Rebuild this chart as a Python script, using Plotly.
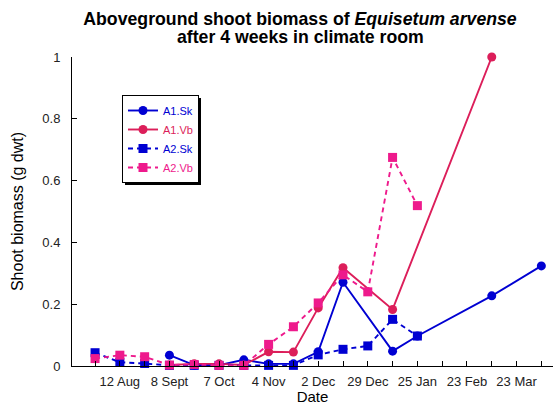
import plotly.graph_objects as go

# sampling index: one step = two weeks, labels on every other step
tick_text = ["", "12 Aug", "", "8 Sept", "", "7 Oct", "", "4 Nov", "", "2 Dec",
             "", "29 Dec", "", "25 Jan", "", "23 Feb", "", "23 Mar", ""]

a1_sk_x = [3, 4, 5, 6, 7, 8, 9, 10, 12, 13, 16, 18]
a1_sk_y = [0.035, 0.003, 0.003, 0.02, 0.007, 0.007, 0.046, 0.271, 0.048, 0.097, 0.227, 0.324]

a1_vb_x = [3, 4, 5, 6, 7, 8, 9, 10, 12, 16]
a1_vb_y = [0.003, 0.007, 0.007, 0.003, 0.046, 0.045, 0.188, 0.318, 0.183, 1.0]

a2_sk_x = [0, 1, 2, 3, 4, 5, 6, 7, 8, 9, 10, 11, 12, 13]
a2_sk_y = [0.043, 0.012, 0.008, 0.002, 0.002, 0.002, 0.002, 0.002, 0.002, 0.036, 0.054, 0.065, 0.151, 0.097]

a2_vb_x = [0, 1, 2, 3, 4, 5, 6, 7, 8, 9, 10, 11, 12, 13]
a2_vb_y = [0.024, 0.035, 0.03, 0.003, 0.005, 0.002, 0.002, 0.07, 0.127, 0.204, 0.295, 0.24, 0.675, 0.519]

BLUE = "#0000D2"
CRIMSON = "#DC1E5A"
PINK = "#EE1A8C"
FONT = "Liberation Sans"


def series(x, y, name, color, symbol, dash):
    return go.Scatter(
        x=x, y=y, mode="lines+markers", cliponaxis=False,
        name="<span style='color:%s'>%s</span>" % (color, name),
        line=dict(color=color, width=1.9, dash=dash),
        marker=dict(color=color, symbol=symbol, size=9),
    )


def px_x(p):
    return (p - 72) / 481


def px_y(p):
    return (366 - p) / 309


fig = go.Figure()
fig.add_trace(series(a1_sk_x, a1_sk_y, "A1.Sk", BLUE, "circle", "solid"))
fig.add_trace(series(a1_vb_x, a1_vb_y, "A1.Vb", CRIMSON, "circle", "solid"))
fig.add_trace(series(a2_sk_x, a2_sk_y, "A2.Sk", BLUE, "square", "5px,4px"))
fig.add_trace(series(a2_vb_x, a2_vb_y, "A2.Vb", PINK, "square", "5px,4px"))

fig.update_layout(
    width=554, height=405,
    margin=dict(l=72, r=1, t=57, b=39),
    paper_bgcolor="white", plot_bgcolor="white",
    font=dict(family=FONT, color="#222", size=13),
    title=dict(text="<b>Aboveground shoot biomass of <i>Equisetum arvense</i></b>",
               x=300 / 554, xanchor="center", y=1 - 19 / 405, yanchor="middle",
               font=dict(size=17.7, color="black")),
    showlegend=True,
    legend=dict(x=px_x(122), y=px_y(95), xanchor="left", yanchor="top",
                bgcolor="white", bordercolor="black", borderwidth=1,
                font=dict(size=11), itemwidth=30, tracegroupgap=0),
)
# drop shadow behind the legend box
fig.add_shape(type="rect", xref="paper", yref="paper",
              x0=px_x(125), x1=px_x(201), y0=px_y(185), y1=px_y(98),
              fillcolor="black", line=dict(width=0), layer="above")
fig.add_annotation(text="<b>after 4 weeks in climate room</b>", xref="paper", yref="paper",
                   x=px_x(300), y=1 + 20 / 309, xanchor="center", yanchor="middle",
                   showarrow=False, font=dict(size=17.7, color="black"))

fig.update_xaxes(range=[-0.93, 18.47], tickmode="array", tickvals=list(range(len(tick_text))),
                 ticktext=tick_text, ticks="inside", ticklen=5, tickcolor="black",
                 showline=True, linecolor="black", linewidth=1, showgrid=False, zeroline=False,
                 ticklabelstandoff=3,
                 title=dict(text="Date", font=dict(size=15, color="black"), standoff=2))
fig.update_yaxes(range=[0, 1], dtick=0.2, ticks="inside", ticklen=5, tickcolor="black",
                 showline=True, linecolor="black", linewidth=1, showgrid=False, zeroline=False,
                 ticklabelstandoff=8,
                 title=dict(text="Shoot biomass (g dwt)", font=dict(size=16, color="black"), standoff=14))

fig.write_html("out.html", config={"displayModeBar": False},
               post_script="document.body.style.margin='0';")
